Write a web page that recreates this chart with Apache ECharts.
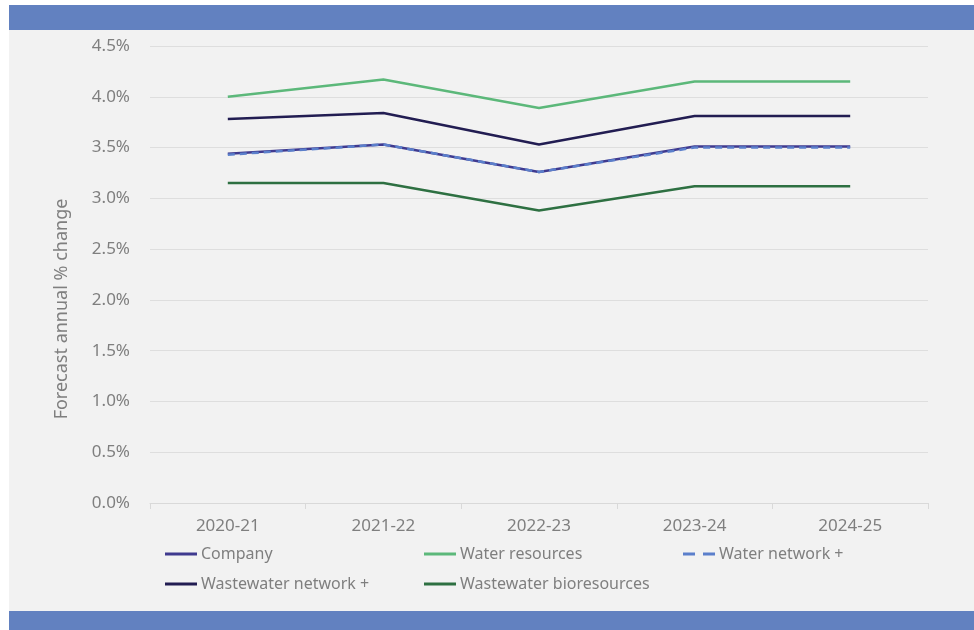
<!DOCTYPE html>
<html>
<head>
<meta charset="utf-8">
<script src="https://cdn.jsdelivr.net/npm/echarts@6/dist/echarts.min.js"></script>
<style>
  html, body { margin: 0; padding: 0; background: #ffffff; }
  #chart { width: 974px; height: 630px; }
</style>
</head>
<body>
<div id="chart"></div>
<script>
// Forecast annual % change by price control
const years = ['2020-21', '2021-22', '2022-23', '2023-24', '2024-25'];
const company = [3.44, 3.53, 3.26, 3.51, 3.51];
const waterResources = [4.00, 4.17, 3.89, 4.15, 4.15];
const waterNetwork = [3.43, 3.53, 3.26, 3.50, 3.50];
const wastewaterNetwork = [3.78, 3.84, 3.53, 3.81, 3.81];
const wastewaterBio = [3.15, 3.15, 2.88, 3.12, 3.12];
const yTicks = [0, 0.5, 1.0, 1.5, 2.0, 2.5, 3.0, 3.5, 4.0, 4.5];

const textColor = '#7f7f7f';
const fontFamily = '"Noto Sans", "Open Sans", sans-serif';

// Legend keys: a plain bar for solid lines, two dashes for the dashed one
const solidIcon = 'path://M0,0 H32 V3 H0 Z';
const dashedIcon = 'path://M0,0 H12 V3 H0 Z M20,0 H32 V3 H20 Z';

function lineSeries(name, data, color, dashed) {
  return {
    name: name,
    type: 'line',
    data: data,
    symbol: 'none',
    z: dashed ? 5 : 3,
    lineStyle: { color: color, width: 2.5, type: dashed ? [7, 5] : 'solid' },
    itemStyle: { color: color }
  };
}

const legendBase = {
  orient: 'vertical',
  itemWidth: 32,
  itemHeight: 3,
  itemGap: 14,
  padding: 0,
  top: 546,
  selectedMode: false,
  textStyle: { color: textColor, fontSize: 16, lineHeight: 16, fontFamily: fontFamily, padding: [0, 0, 0, -1] }
};

const chart = echarts.init(document.getElementById('chart'), null, { renderer: 'canvas' });
chart.setOption({
  backgroundColor: '#ffffff',
  animation: false,
  graphic: [
    { type: 'rect', z: -10, shape: { x: 9, y: 5, width: 965, height: 625 }, style: { fill: '#f2f2f2' } },
    { type: 'rect', z: -9, shape: { x: 9, y: 5, width: 965, height: 25 }, style: { fill: '#6281c0' } },
    { type: 'rect', z: -9, shape: { x: 9, y: 611, width: 965, height: 19 }, style: { fill: '#6281c0' } },
    {
      type: 'text', x: 62, y: 309, rotation: Math.PI / 2,
      style: {
        text: 'Forecast annual % change', fill: textColor, fontSize: 18,
        fontFamily: fontFamily, align: 'center', verticalAlign: 'middle'
      }
    }
  ],
  grid: { left: 150, right: 46, top: 46, bottom: 127 },
  legend: [
    Object.assign({}, legendBase, { left: 165, data: [
      { name: 'Company', icon: solidIcon },
      { name: 'Wastewater network +', icon: solidIcon }
    ] }),
    Object.assign({}, legendBase, { left: 424, data: [
      { name: 'Water resources', icon: solidIcon },
      { name: 'Wastewater bioresources', icon: solidIcon }
    ] }),
    Object.assign({}, legendBase, { left: 683, data: [
      { name: 'Water network +', icon: dashedIcon }
    ] })
  ],
  xAxis: {
    type: 'category',
    data: years,
    boundaryGap: true,
    axisLine: { lineStyle: { color: '#d9d9d9', width: 1 } },
    axisTick: { show: true, length: 6, lineStyle: { color: '#d9d9d9' } },
    axisLabel: { color: textColor, fontSize: 17, fontFamily: fontFamily, margin: 15 }
  },
  yAxis: {
    type: 'value',
    min: yTicks[0],
    max: yTicks[yTicks.length - 1],
    interval: 0.5,
    axisLine: { show: false },
    axisTick: { show: false },
    splitLine: { lineStyle: { color: '#dedede', width: 1 } },
    axisLabel: {
      color: textColor, fontSize: 17, fontFamily: fontFamily, margin: 20,
      formatter: v => v.toFixed(1) + '%'
    }
  },
  series: [
    lineSeries('Company', company, '#3f3a8f', false),
    lineSeries('Water resources', waterResources, '#5cb87a', false),
    lineSeries('Water network +', waterNetwork, '#5b7fcb', true),
    lineSeries('Wastewater network +', wastewaterNetwork, '#221d52', false),
    lineSeries('Wastewater bioresources', wastewaterBio, '#2e7042', false)
  ]
});
</script>
</body>
</html>
